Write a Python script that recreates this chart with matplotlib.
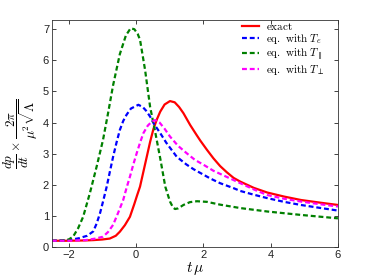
import matplotlib
matplotlib.use('Agg')
import matplotlib.pyplot as plt

plt.rcParams['mathtext.fontset'] = 'cm'
plt.rcParams['font.family'] = ['Liberation Sans', 'DejaVu Sans']

# exact
t_exact = [-2.5, -2.0, -1.5, -1.27, -1.0, -0.78, -0.6, -0.48, -0.33, -0.18, -0.05, 0.03,
           0.12, 0.22, 0.32, 0.42, 0.52, 0.62, 0.72, 0.85, 1.01, 1.15, 1.28, 1.41, 1.61,
           1.8, 1.91, 2.11, 2.3, 2.5, 2.7, 2.9, 3.1, 3.5, 3.9, 4.4, 4.9, 5.5, 6.0]
v_exact = [0.2, 0.2, 0.21, 0.22, 0.24, 0.27, 0.36, 0.49, 0.7, 0.97, 1.38, 1.65,
           1.94, 2.42, 2.9, 3.38, 3.8, 4.1, 4.35, 4.58, 4.69, 4.65, 4.5, 4.3, 3.92,
           3.6, 3.42, 3.12, 2.85, 2.6, 2.4, 2.22, 2.1, 1.9, 1.75, 1.62, 1.51, 1.42, 1.35]

# eq. with T_e
t_te = [-2.5, -2.0, -1.7, -1.45, -1.27, -1.17, -1.07, -0.97, -0.87, -0.78, -0.68, -0.58,
        -0.48, -0.38, -0.28, -0.15, 0.07, 0.2, 0.3, 0.42, 0.52, 0.72, 0.9, 1.21, 1.5,
        1.71, 1.91, 2.21, 2.5, 2.9, 3.1, 3.5, 3.9, 4.4, 4.9, 5.5, 6.0]
v_te = [0.2, 0.22, 0.28, 0.36, 0.5, 0.75, 1.08, 1.5, 1.94, 2.4, 2.9, 3.35,
        3.76, 4.05, 4.25, 4.45, 4.57, 4.5, 4.38, 4.19, 3.98, 3.66, 3.35, 2.9, 2.65,
        2.5, 2.38, 2.2, 2.05, 1.89, 1.8, 1.68, 1.57, 1.45, 1.35, 1.25, 1.17]

# eq. with T_par
t_tpar = [-2.5, -2.2, -2.0, -1.87, -1.72, -1.57, -1.37, -1.17, -0.98, -0.83, -0.68,
          -0.48, -0.3, -0.16, -0.05, 0.05, 0.12, 0.27, 0.42, 0.57, 0.72, 0.87, 1.01,
          1.1, 1.16, 1.25, 1.41, 1.6, 1.81, 2.11, 2.5, 3.1, 3.9, 4.9, 6.0]
v_tpar = [0.2, 0.21, 0.24, 0.33, 0.6, 0.97, 1.73, 2.58, 3.44, 4.3, 5.2,
          6.2, 6.8, 7.03, 7.0, 6.85, 6.66, 5.69, 4.5, 3.7, 2.85, 1.94, 1.46,
          1.27, 1.22, 1.24, 1.35, 1.44, 1.47, 1.45, 1.36, 1.25, 1.14, 1.03, 0.92]

# eq. with T_perp
t_tperp = [-2.5, -2.0, -1.5, -1.2, -0.98, -0.83, -0.68, -0.53, -0.38, -0.28, -0.18,
           -0.08, 0.02, 0.12, 0.22, 0.35, 0.47, 0.57, 0.7, 0.85, 1.01, 1.25, 1.51,
           1.75, 2.01, 2.3, 2.6, 2.9, 3.1, 3.5, 3.9, 4.4, 4.9, 5.5, 6.0]
v_tperp = [0.2, 0.2, 0.22, 0.27, 0.33, 0.48, 0.71, 1.1, 1.51, 1.9, 2.26,
           2.65, 3.01, 3.35, 3.66, 3.9, 4.03, 4.08, 4.0, 3.8, 3.55, 3.25, 3.01,
           2.8, 2.64, 2.45, 2.3, 2.15, 2.05, 1.85, 1.67, 1.55, 1.46, 1.37, 1.3]

labels = [r'$\mathrm{exact}$', r'$\mathrm{eq.\ with\ }T_e$',
          r'$\mathrm{eq.\ with\ }T_\parallel$', r'$\mathrm{eq.\ with\ }T_\perp$']

fig = plt.figure(figsize=(3.73, 2.8), dpi=100)
ax = fig.add_axes([0.139, 0.118, 0.767, 0.811])

dash = (2.2, 1.3)
ax.plot(t_exact, v_exact, color='red', lw=1.6, label=labels[0])
ax.plot(t_te, v_te, color='blue', lw=1.6, dashes=dash, label=labels[1])
ax.plot(t_tpar, v_tpar, color='green', lw=1.6, dashes=dash, label=labels[2])
ax.plot(t_tperp, v_tperp, color='magenta', lw=1.6, dashes=dash, label=labels[3])

ax.set_xlim(-2.5, 6)
ax.set_ylim(0, 7.3)
ax.set_xticks([-2, 0, 2, 4, 6])
ax.set_yticks(range(8))
ax.tick_params(direction='in', top=True, right=True, labelsize=8, length=3,
               width=0.6, pad=2, colors='#222222')
for s in ax.spines.values():
    s.set_linewidth(0.6)
    s.set_color('#333333')

ax.set_xlabel(r'$t\,\mu$', fontsize=11, labelpad=0)
ax.set_ylabel(r'$\dfrac{dp}{dt}\times\dfrac{2\pi}{\mu^2\sqrt{\Lambda}}$', fontsize=9.5, labelpad=2)

ax.legend(loc='upper left', frameon=False, fontsize=8, handlelength=1.5,
          handletextpad=0.65, labelspacing=0.0, borderpad=0, borderaxespad=0,
          bbox_to_anchor=(0.665, 0.995))

fig.savefig('out.png', dpi=100)
